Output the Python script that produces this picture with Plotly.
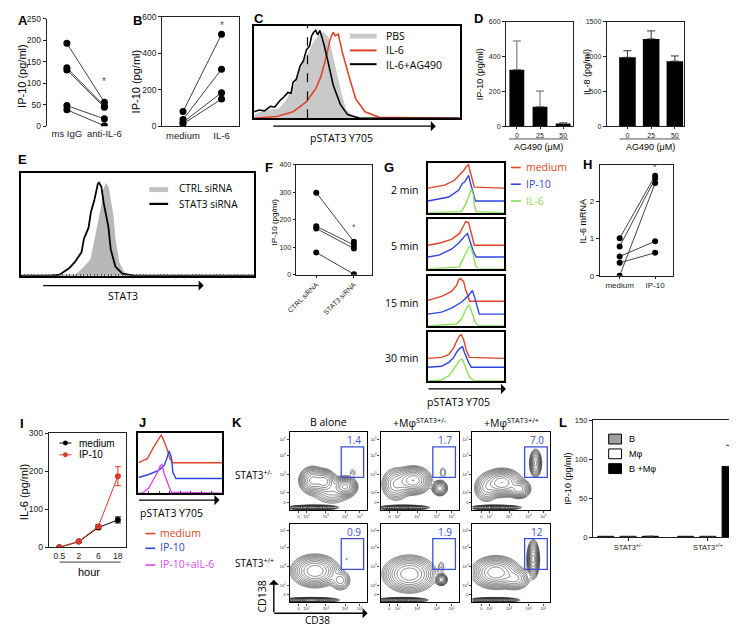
import numpy as np
import plotly.graph_objects as go

W, H = 737, 626

# ---------------- data ----------------
# A
A_CATS = ["ms IgG", "anti-IL-6"]
A_IGG = [193, 136, 131, 48, 38]
A_ANTI = [56, 47, 44, 17, 1]
# B
B_CATS = ["medium", "IL-6"]
B_MED = [80, 36, 21, 12]
B_IL6 = [505, 313, 184, 149]
# C  (fluorescence channel, relative count)
C_PBS_X = [0, 5, 10, 16, 24, 30, 38, 43, 48, 53, 58, 62, 67, 70, 72, 77, 84, 89, 95, 99, 200]
C_PBS_Y = [0.03, 0.06, 0.08, 0.09, 0.10, 0.17, 0.32, 0.45, 0.60, 0.70, 0.82, 0.88, 0.93, 0.90, 0.88, 0.64, 0.30, 0.10, 0.03, 0.01, 0]
C_IL6_X = [0, 22, 38, 51, 60, 65, 69, 74, 77, 79, 82, 86, 93, 99, 108, 122, 200]
C_IL6_Y = [0, 0.02, 0.07, 0.18, 0.32, 0.45, 0.61, 0.85, 0.93, 0.89, 0.91, 0.71, 0.43, 0.21, 0.07, 0.01, 0]
C_AG_X = [0, 5, 10, 16, 20, 25, 29, 33, 36, 38, 41, 45, 48, 51, 54, 56, 58, 60, 62, 64, 66, 68, 72, 77, 84, 91, 103, 200]
C_AG_Y = [0.07, 0.09, 0.08, 0.13, 0.12, 0.19, 0.23, 0.28, 0.27, 0.39, 0.42, 0.57, 0.62, 0.74, 0.78, 0.89, 0.93, 0.95, 0.90, 0.95, 0.88, 0.80, 0.61, 0.36, 0.15, 0.04, 0, 0]
C_GATE = 52
# D
D_DOSES = ["0", "25", "50"]
D_IP10 = [325, 112, 15]
D_IP10_ERR = [165, 90, 5]
D_IL8 = [990, 1255, 935]
D_IL8_ERR = [95, 115, 75]
# E
E_CTRL_X = [0, 47, 53, 60, 64, 69, 71, 73, 75, 79, 81, 84, 88, 92, 200]
E_CTRL_Y = [0, 0.01, 0.07, 0.16, 0.38, 0.67, 0.84, 0.90, 0.86, 0.58, 0.33, 0.13, 0.04, 0, 0]
E_SI_X = [0, 25, 33, 41, 46, 52, 54, 58, 60, 63, 66, 67, 69, 71, 75, 77, 81, 87, 98, 200]
E_SI_Y = [0, 0, 0.01, 0.07, 0.13, 0.23, 0.36, 0.47, 0.62, 0.74, 0.90, 0.91, 0.87, 0.71, 0.48, 0.26, 0.09, 0.02, 0, 0]
# F
F_CATS = ["CTRL siRNA", "STAT3 siRNA"]
F_CTRL = [298, 176, 168, 81]
F_STAT3 = [120, 108, 95, 2]
# G  (per time point: medium / IP-10 / IL-6 histograms, stacked with baselines)
G_TIMES = ["2 min", "5 min", "15 min", "30 min"]
G_BASE = [[25, 12, 0], [24, 12, 0], [25, 12, 0], [23, 14, 0]]
G_MED_X = [[0, 44, 70, 83, 94, 101, 107, 109, 117, 122, 200],
           [0, 29, 62, 83, 94, 99, 107, 112, 120, 122, 200],
           [0, 36, 62, 75, 81, 86, 94, 99, 107, 109, 200],
           [0, 36, 55, 68, 75, 83, 88, 94, 101, 109, 200]]
G_MED_Y = [[0, 3, 8, 13, 18, 22, 24, 20, 8, 1, 0],
           [0, 2, 6, 12, 20, 24, 23, 14, 3, 0, 0],
           [1, 5, 10, 16, 22, 23, 20, 12, 4, 0, 0],
           [0, 1, 4, 11, 17, 23, 24, 19, 8, 1, 0]]
G_IP10_X = [[0, 55, 81, 91, 96, 104, 107, 112, 120, 125, 200],
            [0, 29, 62, 83, 96, 104, 109, 120, 127, 200],
            [0, 36, 62, 88, 107, 117, 122, 130, 135, 200],
            [0, 36, 55, 68, 75, 83, 91, 96, 107, 114, 200]]
G_IP10_Y = [[0, 4, 11, 18, 19, 24, 26, 18, 6, 0, 0],
            [0, 2, 8, 15, 21, 24, 18, 5, 0, 0],
            [0, 2, 6, 12, 19, 24, 18, 6, 0, 0],
            [0, 1, 5, 10, 15, 19, 21, 15, 5, 0, 0]]
G_IL6_X = [[0, 88, 101, 109, 114, 120, 122, 127, 200],
           [0, 83, 96, 107, 112, 120, 125, 133, 200],
           [0, 75, 88, 96, 104, 109, 117, 125, 133, 200],
           [0, 36, 57, 70, 83, 91, 99, 109, 122, 200]]
G_IL6_Y = [[0, 1, 10, 20, 24, 18, 8, 1, 0],
           [0, 2, 13, 22, 23, 13, 3, 0, 0],
           [0, 2, 7, 13, 20, 21, 12, 3, 0, 0],
           [0, 1, 6, 14, 21, 22, 14, 4, 0, 0]]
# H
H_CATS = ["medium", "IP-10"]
H_MED = [1.01, 0.79, 0.52, 0.35, 0.0]
H_IP10 = [2.70, 2.62, 0.93, 0.62, 2.50]
# I
I_HOURS = ["0.5", "2", "6", "18"]
I_MED = [0, 15, 52, 72]
I_MED_ERR = [1, 2, 4, 8]
I_IP10 = [0, 16, 55, 187]
I_IP10_ERR = [1, 2, 5, 25]
# J
J_BASE = [31, 15, 0]
J_MED_X = [0, 21, 35, 47, 54, 59, 68, 75, 82, 200]
J_MED_Y = [0, 4, 15, 24, 28, 24, 14, 4, 0, 0]
J_IP10_X = [0, 24, 47, 61, 68, 73, 78, 82, 89, 200]
J_IP10_Y = [1, 4, 8, 13, 21, 28, 22, 6, 0, 0]
J_AB_X = [0, 9, 24, 35, 45, 52, 56, 61, 71, 78, 200]
J_AB_Y = [0, 0, 5, 13, 21, 28, 29, 20, 8, 1, 0]
# K  (density blobs per plot: cx, cy, sx, sy, weight) and gate percentages
K_COLS = ["B alone", "+M\u03c6<sup>STAT3+/-</sup>", "+M\u03c6<sup>STAT3+/+</sup>"]
K_ROWS = ["STAT3<sup>+/-</sup>", "STAT3<sup>+/+</sup>"]
K_GATE_PCT = [["1.4", "1.7", "7.0"], ["0.9", "1.9", "12"]]
K11_BLOBS = [(0.30, 0.38, 0.07, 0.07, 0.8), (0.45, 0.37, 0.06, 0.06, 0.8), (0.72, 0.30, 0.06, 0.05, 1.1),
             (0.30, 0.03, 0.12, 0.012, 1.3), (0.55, 0.25, 0.12, 0.08, 0.2), (0.82, 0.48, 0.03, 0.04, 0.04)]
K12_BLOBS = [(0.42, 0.38, 0.09, 0.07, 1.0), (0.20, 0.33, 0.08, 0.09, 0.35), (0.76, 0.28, 0.04, 0.04, 0.6),
             (0.30, 0.03, 0.12, 0.012, 1.2), (0.80, 0.48, 0.03, 0.05, 0.05)]
K13_BLOBS = [(0.38, 0.35, 0.10, 0.07, 1.0), (0.60, 0.27, 0.06, 0.05, 0.6), (0.81, 0.60, 0.03, 0.07, 0.8),
             (0.30, 0.03, 0.12, 0.012, 1.2), (0.18, 0.28, 0.07, 0.08, 0.25)]
K21_BLOBS = [(0.33, 0.40, 0.12, 0.08, 1.0), (0.28, 0.03, 0.13, 0.012, 1.5), (0.66, 0.28, 0.06, 0.06, 0.2),
             (0.74, 0.55, 0.015, 0.015, 0.03)]
K22_BLOBS = [(0.37, 0.36, 0.13, 0.09, 1.0), (0.78, 0.29, 0.03, 0.03, 0.7), (0.28, 0.03, 0.12, 0.012, 1.2),
             (0.78, 0.45, 0.025, 0.05, 0.05)]
K23_BLOBS = [(0.30, 0.38, 0.12, 0.08, 1.0), (0.78, 0.55, 0.03, 0.09, 1.2), (0.28, 0.03, 0.12, 0.012, 1.2),
             (0.55, 0.30, 0.08, 0.06, 0.35)]
K_BLOBS = [[K11_BLOBS, K12_BLOBS, K13_BLOBS], [K21_BLOBS, K22_BLOBS, K23_BLOBS]]
K_TICKS = ["0", "10<sup>2</sup>", "10<sup>3</sup>", "10<sup>4</sup>", "10<sup>5</sup>"]
# L
L_CATS = ["STAT3<sup>+/-</sup>", "STAT3<sup>+/+</sup>"]
L_B = [1.5, 1.5]
L_M = [1.5, 1.5]
L_BM = [1.5, 91]
L_BM_ERR = [0, 27]

# ---------------- styling ----------------
RED = "#e0442a"
BLUE = "#2f45e0"
GREEN = "#8ee05a"
MAG = "#dd48ee"
GBLUE = "#3b4fd6"
ARIAL = "Liberation Sans"
CAL = "Open Sans"

fig = go.Figure()
layout = dict(width=W, height=H, margin=dict(l=0, r=0, t=0, b=0), paper_bgcolor="white",
              plot_bgcolor="rgba(0,0,0,0)", showlegend=False)
ann = []
shapes = []
cnt = [0]


def axes(x0, x1, y0, y1, xa, ya):
    cnt[0] += 1
    s = "" if cnt[0] == 1 else str(cnt[0])
    xd = dict(domain=[x0 / W, x1 / W], anchor="y" + s)
    yd = dict(domain=[1 - y1 / H, 1 - y0 / H], anchor="x" + s)
    xd.update(xa)
    yd.update(ya)
    layout["xaxis" + s] = xd
    layout["yaxis" + s] = yd
    return "x" + s, "y" + s


def gp(size=9, **kw):
    d = dict(showgrid=False, zeroline=False, showline=True, linecolor="#222", linewidth=1,
             ticks="outside", ticklen=3, tickwidth=1, tickcolor="#222",
             tickfont=dict(family=ARIAL, size=size, color="#222"))
    d.update(kw)
    return d


def fl(**kw):
    d = dict(showgrid=False, zeroline=False, showline=True, linecolor="black", linewidth=1.5,
             mirror=True, ticks="", showticklabels=False)
    d.update(kw)
    return d


def txt(x, y, text, size, family=ARIAL, color="black", xanchor="center", angle=0, bold=False):
    if bold:
        text = "<b>" + text + "</b>"
    ann.append(dict(x=x / W, y=1 - y / H, xref="paper", yref="paper", text=text, showarrow=False,
                    font=dict(family=family, size=size, color=color), xanchor=xanchor,
                    yanchor="middle", textangle=angle))


def line(x0, y0, x1, y1, color="black", width=1, dash=None):
    shapes.append(dict(type="line", xref="paper", yref="paper", x0=x0 / W, y0=1 - y0 / H,
                       x1=x1 / W, y1=1 - y1 / H, line=dict(color=color, width=width, dash=dash)))


def rect(x0, y0, x1, y1, fill, lc="black", lw=1):
    shapes.append(dict(type="rect", xref="paper", yref="paper", x0=x0 / W, y0=1 - y1 / H,
                       x1=x1 / W, y1=1 - y0 / H, fillcolor=fill, line=dict(color=lc, width=lw)))


def arrow(x0, y0, x1, y1):
    ann.append(dict(x=x1 / W, y=1 - y1 / H, xref="paper", yref="paper", ax=x0 - x1, ay=y0 - y1,
                    axref="pixel", ayref="pixel", showarrow=True, arrowhead=1, arrowsize=1.2,
                    arrowwidth=1.4, arrowcolor="black", text="", standoff=0))


def pairs(xa, ya, cats, left, right, msize=7):
    for a, b in zip(left, right):
        fig.add_trace(go.Scatter(x=cats, y=[a, b], mode="lines+markers", xaxis=xa, yaxis=ya,
                                 line=dict(color="#444", width=1),
                                 marker=dict(color="black", size=msize)))


# ---------------- panel letters ----------------
for L, x, y in [("A", 6, 8), ("B", 122, 8), ("C", 245, 6), ("D", 467, 6), ("E", 6, 149),
                ("F", 255, 157), ("G", 377, 157), ("H", 578, 154), ("I", 5, 417), ("J", 127, 416),
                ("K", 223, 416), ("L", 553, 416)]:
    txt(x, y, L, 13, bold=True)

# ---------------- A ----------------
xa, ya = axes(30, 112, 6, 115,
              gp(9.5, type="category", range=[-0.54, 1.62], showline=False, ticks=""),
              gp(8.5, range=[0, 250], dtick=50))
pairs(xa, ya, A_CATS, A_IGG, A_ANTI)
ann.append(dict(x="anti-IL-6", y=105, xref=xa, yref=ya, text="*", showarrow=False,
                font=dict(family=ARIAL, size=10, color="#555")))
txt(5, 64, "IP-10 (pg/ml)", 11, angle=-90)

# ---------------- B ----------------
xa, ya = axes(147, 225, 4, 115,
              gp(9.5, type="category", range=[-0.54, 1.46], mirror=True, ticks=""),
              gp(8.5, range=[0, 600], dtick=200, mirror=True))
pairs(xa, ya, B_CATS, B_MED, B_IL6)
ann.append(dict(x="IL-6", y=555, xref=xa, yref=ya, text="*", showarrow=False,
                font=dict(family=ARIAL, size=10, color="#555")))
txt(120, 70, "IP-10 (pg/ml)", 11, angle=-90)

# ---------------- C ----------------
xa, ya = axes(240, 448, 13, 107, fl(range=[0, 200]), fl(range=[0, 1.0]))
fig.add_trace(go.Scatter(x=C_PBS_X, y=C_PBS_Y, mode="lines", fill="tozeroy", fillcolor="#c9c9c9",
                         line=dict(color="#c9c9c9", width=1), xaxis=xa, yaxis=ya))
fig.add_trace(go.Scatter(x=C_IL6_X, y=C_IL6_Y, mode="lines", line=dict(color=RED, width=1.6),
                         xaxis=xa, yaxis=ya))
fig.add_trace(go.Scatter(x=C_AG_X, y=C_AG_Y, mode="lines", line=dict(color="black", width=1.6),
                         xaxis=xa, yaxis=ya))
shapes.append(dict(type="line", xref=xa, yref=ya, x0=C_GATE, x1=C_GATE, y0=0, y1=1.0,
                   line=dict(color="black", width=1.2, dash="dash")))
rect(337, 21, 364, 26, "#c9c9c9", lc="#c9c9c9", lw=0)
line(337, 38, 364, 38, RED, 2)
line(337, 52, 364, 52, "black", 2)
txt(372, 23, "PBS", 10.5, CAL, xanchor="left")
txt(372, 38, "IL-6", 10.5, CAL, xanchor="left")
txt(372, 53, "IL-6+AG490", 10.5, CAL, xanchor="left")
arrow(260, 115, 424, 115)
txt(329, 127, "pSTAT3 Y705", 10.5, CAL)

# ---------------- D ----------------
xa, ya = axes(495, 563, 9, 115,
              gp(7, type="category", range=[-0.47, 2.43], mirror=True, ticklen=2),
              gp(7, range=[0, 600], dtick=200, mirror=True))
fig.add_trace(go.Bar(x=D_DOSES, y=D_IP10, width=0.64, marker=dict(color="black", line=dict(width=0)),
                     error_y=dict(type="data", array=D_IP10_ERR, arrayminus=[0, 0, 0], symmetric=False,
                                  color="#666", thickness=1, width=4),
                     xaxis=xa, yaxis=ya))
xa, ya = axes(597, 675, 9, 115,
              gp(7, type="category", range=[-0.875, 2.375], mirror=True, ticklen=2),
              gp(7, range=[0, 1500], dtick=500, mirror=True))
fig.add_trace(go.Bar(x=D_DOSES, y=D_IL8, width=0.7, marker=dict(color="black", line=dict(width=0)),
                     error_y=dict(type="data", array=D_IL8_ERR, arrayminus=[0, 0, 0], symmetric=False,
                                  color="#333", thickness=1, width=4),
                     xaxis=xa, yaxis=ya))
line(498, 128, 558, 128, "#555", 1)
line(610, 128, 671, 128, "#555", 1)
txt(528, 136, "AG490 (\u03bcM)", 9)
txt(641, 136, "AG490 (\u03bcM)", 9)
txt(469, 62, "IP-10 (pg/ml)", 9, angle=-90)
txt(577, 60, "IL-8 (pg/ml)", 9, angle=-90)

# ---------------- E ----------------
xa, ya = axes(4, 240, 163, 267, fl(range=[0, 200], ticks="inside", ticklen=2, dtick=3, tickcolor="#555"),
              fl(range=[0, 1.0]))
fig.add_trace(go.Scatter(x=E_CTRL_X, y=E_CTRL_Y, mode="lines", fill="tozeroy", fillcolor="#b8b8b8",
                         line=dict(color="#b8b8b8", width=1), xaxis=xa, yaxis=ya))
fig.add_trace(go.Scatter(x=E_SI_X, y=E_SI_Y, mode="lines", line=dict(color="black", width=1.8),
                         xaxis=xa, yaxis=ya))
rect(134, 177, 153, 182, "#c0c0c0", lc="#c0c0c0", lw=0)
line(134, 194, 153, 194, "black", 2.2)
txt(162, 178, "CTRL siRNA", 10, CAL, xanchor="left")
txt(162, 194, "STAT3 siRNA", 10, CAL, xanchor="left")
arrow(27, 277, 189, 277)
txt(107, 288, "STAT3", 10.5, CAL)

# ---------------- F ----------------
xa, ya = axes(282, 359, 154, 266,
              gp(7, type="category", range=[-0.55, 1.47], mirror=True, ticklen=2, tickangle=-45),
              gp(7, range=[0, 400], dtick=100, mirror=True, ticklen=2))
pairs(xa, ya, F_CATS, F_CTRL, F_STAT3, msize=6)
ann.append(dict(x="STAT3 siRNA", y=172, xref=xa, yref=ya, text="*", showarrow=False,
                font=dict(family=ARIAL, size=9, color="#555")))
txt(261, 212, "IP-10 (pg/ml)", 8, angle=-90)

# ---------------- G ----------------
G_BOX = [(152, 203), (209, 260), (267, 318), (324, 374)]
for i, (t0, t1) in enumerate(G_BOX):
    xa, ya = axes(416, 493, t0, t1, fl(range=[0, 200]), fl(range=[0, t1 - t0]))
    for xs, ys, base, col in [(G_MED_X[i], G_MED_Y[i], G_BASE[i][0], RED),
                              (G_IP10_X[i], G_IP10_Y[i], G_BASE[i][1], BLUE),
                              (G_IL6_X[i], G_IL6_Y[i], G_BASE[i][2], GREEN)]:
        fig.add_trace(go.Scatter(x=xs, y=[base + v for v in ys], mode="lines",
                                 line=dict(color=col, width=1.4), xaxis=xa, yaxis=ya))
    txt(409, (t0 + t1) / 2 + 2, G_TIMES[i], 10.5, CAL, xanchor="right")
for y, lab, col in [(157, "medium", RED), (174, "IP-10", BLUE), (191, "IL-6", GREEN)]:
    line(500, y, 510, y, col, 1.6)
    txt(513, y, lab, 10.5, CAL, col, xanchor="left")
arrow(416, 382, 495, 382)
txt(447, 395, "pSTAT3 Y705", 10.5, CAL)

# ---------------- H ----------------
xa, ya = axes(590, 664, 154, 267,
              gp(8, type="category", range=[-0.56, 1.5], mirror=True, ticklen=2),
              gp(8, range=[0, 3], tickvals=[0, 1, 2], mirror=True, ticklen=3))
pairs(xa, ya, H_CATS, H_MED, H_IP10, msize=6)
ann.append(dict(x="IP-10", y=2.93, xref=xa, yref=ya, text="*", showarrow=False,
                font=dict(family=ARIAL, size=9, color="#555")))
txt(573, 212, "IL-6 mRNA", 9, angle=-90)

# ---------------- I ----------------
xa, ya = axes(32, 110, 427, 543,
              gp(8.5, type="category", range=[-0.55, 3.4], mirror=True, ticks=""),
              gp(8.5, range=[0, 300], dtick=100, mirror=True))
fig.add_trace(go.Scatter(x=I_HOURS, y=I_MED, mode="lines+markers", xaxis=xa, yaxis=ya,
                         line=dict(color="black", width=1), marker=dict(color="black", size=6),
                         error_y=dict(type="data", array=I_MED_ERR, color="black", thickness=1, width=3)))
fig.add_trace(go.Scatter(x=I_HOURS, y=I_IP10, mode="lines+markers", xaxis=xa, yaxis=ya,
                         line=dict(color="#d9392b", width=1), marker=dict(color="#d9392b", size=6),
                         error_y=dict(type="data", array=I_IP10_ERR, color="#d9392b", thickness=1, width=3)))
ann.append(dict(x="18", y=228, xref=xa, yref=ya, text="**", showarrow=False,
                font=dict(family=ARIAL, size=10, color="#333")))
line(43, 437, 55, 437, "black", 1)
shapes.append(dict(type="circle", xref="paper", yref="paper", x0=46.5 / W, x1=51.5 / W,
                   y0=1 - 439.5 / H, y1=1 - 434.5 / H, fillcolor="black", line=dict(color="black", width=0)))
line(43, 449, 55, 449, "#d9392b", 1)
shapes.append(dict(type="circle", xref="paper", yref="paper", x0=46.5 / W, x1=51.5 / W,
                   y0=1 - 451.5 / H, y1=1 - 446.5 / H, fillcolor="#d9392b", line=dict(color="#d9392b", width=0)))
txt(61, 437, "medium", 10, xanchor="left")
txt(61, 449, "IP-10", 10, xanchor="left")
line(43, 558, 105, 558, "#444", 1)
txt(73, 568, "hour", 11)
txt(7, 487, "IL-6 (pg/ml)", 11, angle=-90)

# ---------------- J ----------------
xa, ya = axes(123, 208, 427, 488, fl(range=[0, 200], ticks="inside", ticklen=2, dtick=25),
              fl(range=[0, 61]))
for xs, ys, base, col in [(J_MED_X, J_MED_Y, J_BASE[0], RED), (J_IP10_X, J_IP10_Y, J_BASE[1], BLUE),
                          (J_AB_X, J_AB_Y, J_BASE[2], MAG)]:
    fig.add_trace(go.Scatter(x=xs, y=[base + v for v in ys], mode="lines",
                             line=dict(color=col, width=1.4), xaxis=xa, yaxis=ya))
arrow(123, 495, 205, 495)
txt(156, 508, "pSTAT3 Y705", 10.5, CAL)
for y, lab, col in [(528, "medium", RED), (543, "IP-10", BLUE), (560, "IP-10+aIL-6", MAG)]:
    line(130, y + 1, 140, y + 1, col, 1.6)
    txt(143, y, lab, 10.5, CAL, col, xanchor="left")

# ---------------- K ----------------
gx = np.linspace(0, 1, 100)
GX, GY = np.meshgrid(gx, gx)
K_X = [(276, 354), (368, 447), (461, 540)]
K_Y = [(426, 505), (519, 599)]
for r in range(2):
    for c in range(3):
        xa, ya = axes(K_X[c][0], K_X[c][1], K_Y[r][0], K_Y[r][1],
                      fl(range=[0, 1], linewidth=1.2, ticks="outside", ticklen=2, tickwidth=0.6,
                         showticklabels=True, tickvals=[0.115, 0.22, 0.47, 0.72, 0.91],
                         ticktext=K_TICKS, tickfont=dict(family=ARIAL, size=4, color="#333")),
                      fl(range=[0, 1], linewidth=1.2, ticks="outside", ticklen=2, tickwidth=0.6,
                         showticklabels=True, tickvals=[0.10, 0.22, 0.46, 0.70, 0.91],
                         ticktext=K_TICKS, tickfont=dict(family=ARIAL, size=4, color="#333")))
        Z = np.zeros_like(GX)
        for cx, cy, sx, sy, w in K_BLOBS[r][c]:
            Z += w * np.exp(-((GX - cx) ** 2 / (2 * sx ** 2) + (GY - cy) ** 2 / (2 * sy ** 2)))
        Z = np.log10(Z + 1e-6)
        fig.add_trace(go.Contour(x=gx, y=gx, z=Z, xaxis=xa, yaxis=ya, showscale=False,
                                 contours=dict(coloring="lines", start=-1.6, end=0.15, size=0.16),
                                 line=dict(width=0.6), colorscale=[[0, "#333"], [1, "#333"]],
                                 hoverinfo="skip"))
        shapes.append(dict(type="rect", xref=xa, yref=ya, x0=0.67, x1=0.96, y0=0.42, y1=0.81,
                           line=dict(color=GBLUE, width=1.3)))
        ann.append(dict(x=0.83, y=0.90, xref=xa, yref=ya, text=K_GATE_PCT[r][c], showarrow=False,
                        font=dict(family=CAL, size=10, color=GBLUE)))
for c in range(3):
    txt((K_X[c][0] + K_X[c][1]) / 2, 416, K_COLS[c], 10.5, CAL)
txt(219, 469, K_ROWS[0], 10, CAL, xanchor="left")
txt(219, 559, K_ROWS[1], 10, CAL, xanchor="left")
arrow(260, 610, 260, 576)
arrow(260, 610, 355, 610)
txt(248, 593, "CD138", 10.5, CAL, angle=-90)
txt(304, 617, "CD38", 10, CAL)

# ---------------- L ----------------
xa, ya = axes(583, 735, 414, 533,
              gp(7.5, type="category", range=[-0.44, 1.44], mirror=True, ticklen=3),
              gp(7.5, range=[0, 150], dtick=50, mirror=True))
for vals, off, col in [(L_B, -0.378, "#a0a0a0"), (L_M, -0.1, "white"), (L_BM, 0.178, "black")]:
    kw = {}
    if col == "black":
        kw["error_y"] = dict(type="data", array=L_BM_ERR, arrayminus=[0, 0], symmetric=False,
                             color="#333", thickness=1, width=4)
    fig.add_trace(go.Bar(x=L_CATS, y=vals, width=0.2, offset=off,
                         marker=dict(color=col, line=dict(color="black", width=1)),
                         xaxis=xa, yaxis=ya, **kw))
rect(599, 428, 612, 438, "#a0a0a0")
rect(599, 443, 612, 453, "white")
rect(599, 458, 612, 468, "black")
txt(618, 433, "B", 9, xanchor="left")
txt(618, 448, "M\u03c6", 9, xanchor="left")
txt(618, 463, "B +M\u03c6", 9, xanchor="left")
txt(558, 473, "IP-10 (pg/ml)", 9, angle=-90)

layout["annotations"] = ann
layout["shapes"] = shapes
fig.update_layout(layout)
fig.write_html("out.html")
